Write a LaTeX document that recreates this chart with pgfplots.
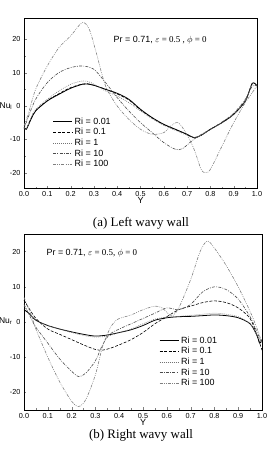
\documentclass[border=0pt]{standalone}
\usepackage{pgfplots}
\pgfplotsset{compat=1.18}
\usepackage{fontspec}
\setmainfont{Liberation Sans}
\newfontfamily\capfont{Liberation Serif}
\begin{document}
\begin{tikzpicture}
\useasboundingbox (0bp,0bp) rectangle (278bp,457bp);
\pgfplotsset{
  myax/.style={
    scale only axis, anchor=south west,
    xmin=0, xmax=1,
    xtick={0,0.1,...,1.0},
    xticklabels={0.0,0.1,0.2,0.3,0.4,0.5,0.6,0.7,0.8,0.9,1.0},
    tick align=inside, xtick pos=left, ytick pos=left,
    minor x tick num=1, minor y tick num=1,
    major tick length=2.5bp, minor tick length=1.5bp,
    tick label style={font=\fontsize{7.3}{8}\selectfont},
    /pgf/number format/assume math mode=true,
    xlabel={Y}, xlabel style={font=\fontsize{9}{10}\selectfont, yshift=6bp},
    legend style={draw=none, fill=none, font=\fontsize{9}{10}\selectfont, row sep=-1.3bp, anchor=north west, legend cell align=left},
    legend image code/.code={\draw[##1] (0bp,0bp) -- (19bp,0bp);},
    every axis plot/.append style={smooth, line width=0.6pt},
  },
  s1/.style={black, solid, line width=0.8pt},
  s2/.style={black, dashed, dash pattern=on 3pt off 1.6pt},
  s3/.style={black!55, dotted, dash pattern=on 0.8pt off 1.2pt},
  s4/.style={black!70, dash pattern=on 3pt off 1.3pt on 0.8pt off 1.3pt},
  s5/.style={black!50, dash pattern=on 3pt off 1.2pt on 0.8pt off 1.2pt on 0.8pt off 1.2pt},
}
% top axis
\begin{axis}[myax, at={(24bp,268.7bp)}, width=233bp, height=170bp,
  ymin=-24.7, ymax=26.3, ytick={-20,-10,0,10,20},
  legend style={at={(axis description cs:0.11,0.44)}}]
\addplot[s1] coordinates {(0,-6.5)(0.01,-7)(0.03,-4)(0.05,-1.5)(0.1,1.5)(0.15,3.5)(0.2,5.3)(0.25,6.5)(0.27,6.6)(0.3,6.2)(0.35,5)(0.4,3.8)(0.45,2)(0.5,-1)(0.55,-3.5)(0.6,-5.5)(0.65,-7)(0.7,-8.5)(0.73,-9.5)(0.76,-8.8)(0.8,-7)(0.85,-5)(0.9,-2.5)(0.95,1.5)(0.98,6.8)(1.0,6)};
\addlegendentry{Ri = 0.01}
\addplot[s2] coordinates {(0,-6.3)(0.01,-6.8)(0.03,-3.8)(0.05,-1.4)(0.1,1.6)(0.15,3.7)(0.2,5.5)(0.25,6.6)(0.27,6.7)(0.3,6.2)(0.35,5)(0.4,3.6)(0.45,1.8)(0.5,-1.2)(0.55,-3.6)(0.6,-5.6)(0.65,-7.1)(0.7,-8.6)(0.73,-9.6)(0.76,-8.8)(0.8,-7)(0.85,-5)(0.9,-2.5)(0.95,1.5)(0.98,6.8)(1.0,6)};
\addlegendentry{Ri = 0.1}
\addplot[s3] coordinates {(0,-6.5)(0.01,-7)(0.03,-3.5)(0.05,-1)(0.1,2)(0.15,4.5)(0.2,6.5)(0.25,7.5)(0.28,7.2)(0.3,6.5)(0.35,4.5)(0.4,3)(0.45,1)(0.5,-1.5)(0.55,-3.8)(0.6,-5.8)(0.65,-7.3)(0.7,-8.8)(0.73,-9.5)(0.76,-8.8)(0.8,-7)(0.85,-5)(0.9,-2.5)(0.95,1.5)(0.98,6.8)(1.0,6)};
\addlegendentry{Ri = 1}
\addplot[s4] coordinates {(0,-7)(0.02,-3)(0.05,2)(0.1,7)(0.15,10)(0.2,11.5)(0.25,12)(0.3,11)(0.35,7)(0.4,2.5)(0.45,-1.5)(0.5,-5)(0.55,-8)(0.6,-11)(0.65,-13)(0.68,-12.8)(0.72,-10.5)(0.75,-9)(0.8,-7)(0.85,-4.8)(0.9,-2.2)(0.95,2)(0.98,6)(1.0,6)};
\addlegendentry{Ri = 10}
\addplot[s5] coordinates {(0,-6)(0.02,-2)(0.05,5)(0.1,12)(0.15,17.5)(0.2,21)(0.25,25)(0.28,23)(0.31,16)(0.35,6)(0.4,0)(0.45,-4)(0.5,-7)(0.55,-8.5)(0.6,-8)(0.63,-6)(0.66,-5)(0.69,-7.5)(0.73,-13)(0.76,-19)(0.78,-20)(0.8,-19)(0.85,-12)(0.9,-5)(0.95,1)(1.0,6)};
\addlegendentry{Ri = 100}
\node[anchor=west, font=\fontsize{9}{10}\selectfont] at (axis cs:0.37,19.8) {Pr = 0.71, {\capfont$\varepsilon$ = 0.5 , $\phi$ = 0}};
\end{axis}
\node[anchor=east, inner sep=0pt, font=\fontsize{8.5}{9}\selectfont] at (12.5bp,351bp) {Nu$_{\mathrm{l}}$};
\node[font=\capfont\fontsize{13}{14}\selectfont] at (141bp,234bp) {(a) Left wavy wall};
% bottom axis
\begin{axis}[myax, at={(24bp,47bp)}, width=238bp, height=176bp,
  ymin=-25, ymax=25, ytick={-20,-10,0,10,20},
  legend style={at={(axis description cs:0.555,0.44)}}]
\addplot[s1] coordinates {(0,3.5)(0.02,2.5)(0.05,0.5)(0.1,-1)(0.15,-2)(0.2,-2.8)(0.25,-3.5)(0.3,-4)(0.35,-3.7)(0.4,-3)(0.45,-2.2)(0.5,-1)(0.55,0.5)(0.6,1.2)(0.65,1.5)(0.7,1.6)(0.75,1.8)(0.8,2)(0.85,1.8)(0.9,1.2)(0.95,-0.5)(0.98,-4)(0.99,-6)(1.0,-5)};
\addlegendentry{Ri = 0.01}
\addplot[s2] coordinates {(0,6.2)(0.02,4)(0.05,1)(0.1,-2)(0.15,-3.5)(0.2,-5)(0.25,-6.5)(0.3,-7.8)(0.33,-8)(0.36,-7.5)(0.4,-6.5)(0.45,-5)(0.5,-3)(0.55,-0.5)(0.6,1.5)(0.65,3.5)(0.7,4.5)(0.75,5.5)(0.8,6)(0.85,5.5)(0.9,4)(0.95,1)(0.98,-4)(1.0,-8)};
\addlegendentry{Ri = 0.1}
\addplot[s3] coordinates {(0,4.5)(0.02,2.5)(0.05,0.5)(0.1,-1)(0.15,-2)(0.2,-3)(0.25,-3.8)(0.3,-4.3)(0.35,-4)(0.4,-3)(0.45,-2)(0.5,-0.5)(0.55,0.8)(0.6,1.4)(0.65,1.6)(0.7,1.9)(0.75,2.2)(0.8,2.5)(0.85,2.2)(0.9,1.5)(0.95,-0.5)(0.98,-4)(1.0,-5.5)};
\addlegendentry{Ri = 1}
\addplot[s4] coordinates {(0,5)(0.03,1)(0.05,-1.5)(0.1,-6)(0.15,-10.5)(0.2,-14)(0.23,-15.5)(0.26,-14.5)(0.3,-11)(0.33,-6.5)(0.36,-3.5)(0.4,-2)(0.45,-0.5)(0.5,1)(0.55,2.5)(0.6,4)(0.65,3.5)(0.7,5)(0.75,8.5)(0.8,10)(0.85,9.2)(0.9,6.5)(0.95,1.5)(0.98,-3)(1.0,-6)};
\addlegendentry{Ri = 10}
\addplot[s5] coordinates {(0,7)(0.03,2)(0.05,-2)(0.1,-10)(0.15,-17)(0.2,-22.5)(0.23,-24)(0.26,-22)(0.3,-15)(0.33,-7)(0.36,-2)(0.38,0)(0.4,1)(0.45,2)(0.5,3.5)(0.55,4.5)(0.58,4)(0.62,1.8)(0.65,4)(0.7,12)(0.74,20)(0.77,23)(0.8,21)(0.85,16)(0.9,10)(0.95,3)(0.98,-2)(1.0,-6)};
\addlegendentry{Ri = 100}
\node[anchor=west, font=\fontsize{9}{10}\selectfont] at (axis cs:0.08,19.6) {Pr = 0.71, {\capfont$\varepsilon$ = 0.5, $\phi$ = 0}};
\end{axis}
\node[anchor=east, inner sep=0pt, font=\fontsize{8.5}{9}\selectfont] at (12.5bp,136bp) {Nu$_{\mathrm{r}}$};
\node[font=\capfont\fontsize{13}{14}\selectfont] at (141bp,22bp) {(b) Right wavy wall};
\end{tikzpicture}
\end{document}
